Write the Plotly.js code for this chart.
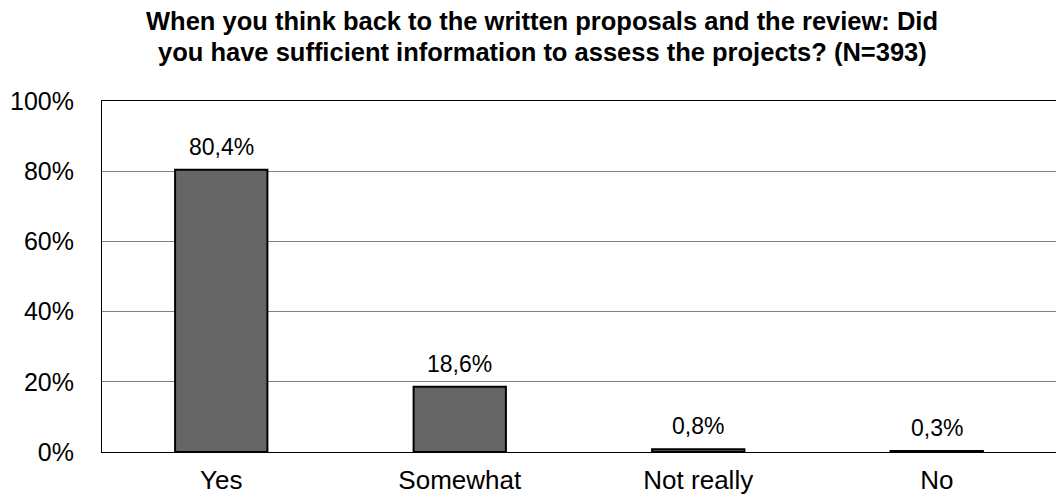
<!DOCTYPE html>
<html>
<head>
<meta charset="utf-8">
<script src="https://cdn.plot.ly/plotly-3.0.1.min.js"></script>
<style>html,body{margin:0;padding:0;background:#fff;}#chart{width:1059px;height:497px;}</style>
</head>
<body>
<div id="chart"></div>
<script>
const categories = ["Yes", "Somewhat", "Not really", "No"];
const values = [80.4, 18.6, 0.8, 0.3];
const valueLabels = ["80,4%", "18,6%", "0,8%", "0,3%"];
const yTickValues = [0, 20, 40, 60, 80, 100];
const yTickLabels = ["0%", "20%", "40%", "60%", "80%", "100%"];
const titleLines = [
  "When you think back to the written proposals and the review: Did",
  "you have sufficient information to assess the projects? (N=393)"
];

const font = "Liberation Sans, Arial, sans-serif";
const W = 1059, H = 497;

const trace = {
  type: "bar",
  x: categories,
  y: values,
  width: 0.387,
  marker: {color: "#666666", line: {color: "#000000", width: 2}},
  hoverinfo: "none"
};

const annotations = categories.map((c, i) => ({
  x: c, y: values[i], xref: "x", yref: "y",
  text: valueLabels[i], showarrow: false,
  yanchor: "bottom", yshift: 8,
  font: {family: font, size: 23, color: "#000"}
}));

// title lines (pixel centers 21 and 52 from top)
const titleCenters = [21, 52];
titleLines.forEach((t, i) => {
  annotations.push({
    xref: "paper", yref: "paper",
    x: (542 - 102) / (W - 102 - 3), y: (H - 45 - titleCenters[i]) / (H - 101 - 45),
    xanchor: "center", yanchor: "middle",
    text: "<b>" + t + "</b>", showarrow: false,
    font: {family: font, size: 25.5, color: "#000"}
  });
});

const layout = {
  width: W, height: H,
  margin: {l: 102, r: 3, t: 101, b: 45},
  paper_bgcolor: "#fff", plot_bgcolor: "#fff",
  showlegend: false,
  xaxis: {
    showline: true, linecolor: "#000", linewidth: 1, mirror: true,
    showgrid: false, zeroline: false, ticks: "",
    ticklabelstandoff: 5,
    tickfont: {family: font, size: 26, color: "#000"}
  },
  yaxis: {
    range: [0, 100], tickvals: yTickValues, ticktext: yTickLabels,
    showline: true, linecolor: "#000", linewidth: 1, mirror: false,
    showgrid: true, gridcolor: "#808080", gridwidth: 1,
    zeroline: false, ticks: "", ticklabelstandoff: 22,
    tickfont: {family: font, size: 25, color: "#000"}
  },
  annotations: annotations
};

Plotly.newPlot("chart", [trace], layout, {staticPlot: true, displayModeBar: false});
</script>
</body>
</html>
